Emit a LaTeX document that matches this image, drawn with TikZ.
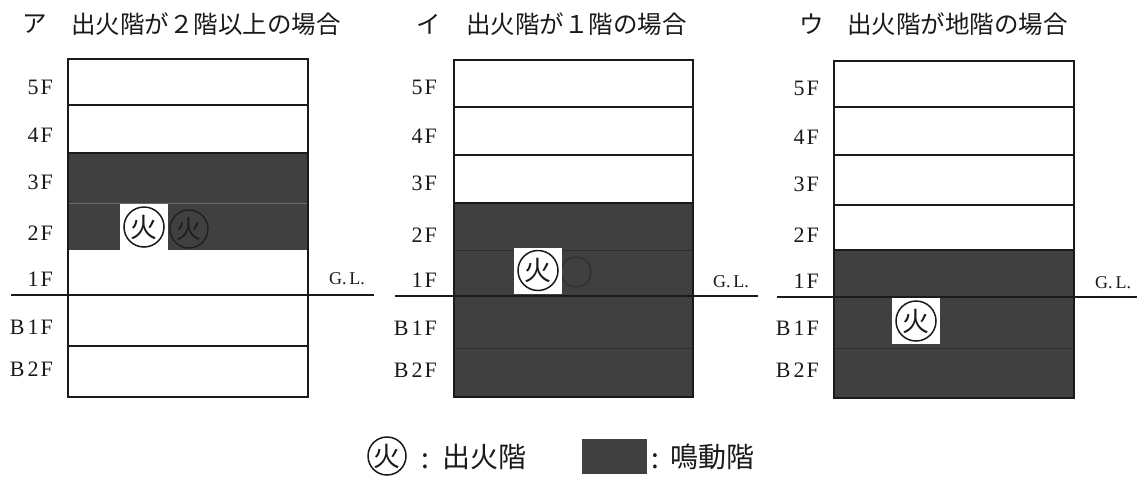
\documentclass[tikz,border=0pt]{standalone}
\usepackage{fontspec}
\setmainfont{Liberation Serif}
\newfontfamily\jp{Noto Sans CJK JP}
\definecolor{ink}{HTML}{1A1A1A}
\definecolor{fillgray}{HTML}{404040}
\definecolor{ghostink}{HTML}{1E1E1E}
\definecolor{seam}{HTML}{6A6A6A}
\definecolor{seamdark}{HTML}{2E2E2E}
\tikzset{
  frame/.style={draw=ink,line width=2pt,fill=none},
  floorline/.style={draw=ink,line width=1.2pt},
  seamline/.style={draw=seam,line width=1pt},
  seamdarkline/.style={draw=seamdark,line width=1pt},
  groundline/.style={draw=ink,line width=1.6pt},
  shade/.style={fill=fillgray,draw=none},
  flabel/.style={font=\fontsize{22}{22}\selectfont,text=ink,inner sep=0pt,anchor=east},
  glabel/.style={font=\fontsize{18}{18}\selectfont,text=ink,inner sep=0pt},
  title/.style={font=\jp\fontsize{24.5}{24.5}\selectfont,text=ink,inner sep=0pt,anchor=west},
  firebox/.style={fill=white,draw=none,inner sep=0pt,minimum width=48pt,minimum height=46pt},
  firering/.style={circle,draw=ink,line width=1.5pt,inner sep=0pt,minimum size=40pt},
  firechar/.style={text=ink,inner sep=0pt,font=\jp\fontsize{27}{27}\selectfont},
  ghostring/.style={circle,draw=ghostink,line width=1.3pt,inner sep=0pt,minimum size=38pt},
  ghostchar/.style={text=ghostink,inner sep=0pt,font=\jp\fontsize{25}{25}\selectfont},
  legendtext/.style={font=\jp\fontsize{28}{28}\selectfont,text=ink,inner sep=0pt,anchor=west},
}
\begin{document}
\begin{tikzpicture}[x=1pt,y=-1pt]
\useasboundingbox[fill=white] (0,0) rectangle (1137,477);
% titles
\node[title] (ta) at (22,24) {ア};
\node[title] (ta2) at (71,24) {出火階が２階以上の場合};
\node[title] (tb) at (416,24) {イ};
\node[title] (tb2) at (466,24) {出火階が１階の場合};
\node[title] (tc) at (799,24) {ウ};
\node[title] (tc2) at (847,24) {出火階が地階の場合};
% Panel A
\fill[shade] (68,153) rectangle (308,250);
\draw[floorline] (68,105) -- (308,105);
\draw[floorline] (68,153) -- (308,153);
\draw[seamline] (68,203) -- (308,203);
\draw[floorline] (68,346) -- (308,346);
\draw[frame] (68,59) rectangle (308,397);
\coordinate (ga) at (11,295); \coordinate (gb) at (374,295);
\draw[groundline] (ga) -- (gb);
\foreach \t/\y in {5\kern2pt F/87,4\kern2pt F/135,3\kern2pt F/182,2\kern2pt F/233,1\kern2pt F/279,B\kern3pt 1\kern2pt F/327,B\kern3pt 2\kern2pt F/369}{\node[flabel] at (53,\y) {\t};}
\node[glabel] (gla) at (347,279) {G.\,L.};
\node[firebox] (fa) at (144,227) {};
\node[firering] (far) at (144,227) {};
\node[firechar] at (144,227) {火};
\node[ghostring] (fa2) at (189,229) {};
\node[ghostchar] at (189,229) {火};
% Panel B
\fill[shade] (454,203) rectangle (693,397);
\draw[floorline] (454,107) -- (693,107);
\draw[floorline] (454,155) -- (693,155);
\draw[floorline] (454,203) -- (693,203);
\draw[seamdarkline] (454,250) -- (693,250);
\draw[seamdarkline] (454,348) -- (693,348);
\draw[frame] (454,60) rectangle (693,397);
\coordinate (gc) at (395,296); \coordinate (gd) at (758,296);
\draw[groundline] (gc) -- (gd);
\foreach \t/\y in {5\kern2pt F/87,4\kern2pt F/136,3\kern2pt F/183,2\kern2pt F/235,1\kern2pt F/280,B\kern3pt 1\kern2pt F/328,B\kern3pt 2\kern2pt F/370}{\node[flabel] at (437,\y) {\t};}
\node[glabel] (glb) at (731,282) {G.\,L.};
\node[ghostring,draw=seamdark,minimum size=30pt] (fb2) at (576,272) {};
\node[firebox] (fb) at (538,270.5) {};
\node[firering] (fbr) at (538,270.5) {};
\node[firechar] at (538,270.5) {火};
% Panel C
\fill[shade] (834,250) rectangle (1074,398);
\draw[floorline] (834,107) -- (1074,107);
\draw[floorline] (834,155) -- (1074,155);
\draw[floorline] (834,205) -- (1074,205);
\draw[floorline] (834,250) -- (1074,250);
\draw[seamdarkline] (834,348) -- (1074,348);
\draw[frame] (834,61) rectangle (1074,398);
\coordinate (ge) at (777,297); \coordinate (gf) at (1137,297);
\draw[groundline] (ge) -- (gf);
\foreach \t/\y in {5\kern2pt F/88,4\kern2pt F/137,3\kern2pt F/184,2\kern2pt F/235,1\kern2pt F/281,B\kern3pt 1\kern2pt F/328,B\kern3pt 2\kern2pt F/370}{\node[flabel] at (819,\y) {\t};}
\node[glabel] (glc) at (1113,283) {G.\,L.};
\node[firebox] (fc) at (916,321) {};
\node[firering] (fcr) at (916,321) {};
\node[firechar] at (916,321) {火};
% Legend
\node[firering,minimum size=38pt] (lr) at (387,456) {};
\node[firechar] at (387,456) {火};
\node[legendtext] (lc1) at (421,461) {:};
\node[legendtext] (l1) at (442,457) {出火階};
\node[shade,minimum width=65pt,minimum height=35pt,inner sep=0pt] (ls) at (614.5,456.5) {};
\node[legendtext] (lc2) at (651,461) {:};
\node[legendtext] (l2) at (670,457) {鳴動階};
\end{tikzpicture}
\end{document}
